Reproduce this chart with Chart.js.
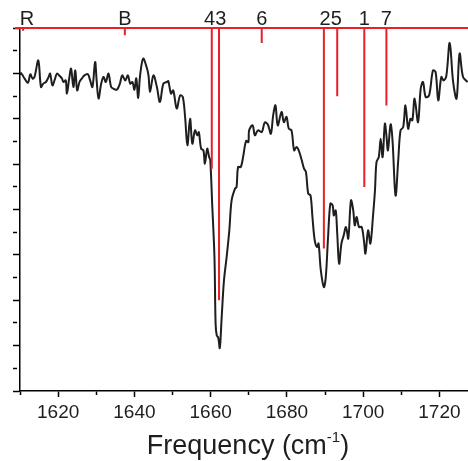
<!DOCTYPE html>
<html>
<head>
<meta charset="utf-8">
<script src="https://cdn.jsdelivr.net/npm/chart.js@4"></script>
<style>
  html, body { margin: 0; padding: 0; background: #fff; }
  #wrap { width: 468px; height: 461px; }
</style>
</head>
<body>
<div id="wrap"><canvas id="ir"></canvas></div>
<script>
// measured spectrum (frequency in cm-1, arbitrary intensity)
const freqs = [
  1609.9, 1610.3, 1611.2, 1612.1, 1612.7, 1613.3, 1613.8, 1614.8, 1615.5, 1616.1,
  1616.8, 1617.5, 1617.9, 1618.5, 1619.2, 1619.7, 1620.5, 1621.0, 1621.4, 1622.0,
  1622.3, 1622.9, 1623.4, 1624.0, 1624.5, 1625.0, 1625.6, 1626.2, 1626.9, 1627.8,
  1628.4, 1629.0, 1629.7, 1630.1, 1630.6, 1631.3, 1631.9, 1632.5, 1633.2, 1633.9,
  1634.5, 1635.4, 1636.2, 1636.8, 1637.6, 1638.3, 1638.9, 1639.5, 1640.0, 1640.5,
  1641.0, 1641.5, 1642.3, 1643.2, 1643.7, 1644.1, 1645.0, 1645.9, 1646.7, 1647.6,
  1648.5, 1648.9, 1649.6, 1650.2, 1651.1, 1652.0, 1652.7, 1653.3, 1653.9, 1654.6,
  1655.2, 1655.9, 1656.5, 1656.9, 1657.5, 1658.1, 1658.5, 1659.1, 1659.6, 1659.9,
  1660.4, 1661.0, 1661.3, 1661.6, 1662.0, 1662.4, 1662.9, 1663.5, 1664.2, 1664.9,
  1665.5, 1666.4, 1666.8, 1667.2, 1667.9, 1668.5, 1669.3, 1669.9, 1670.1, 1671.0,
  1671.6, 1672.4, 1673.4, 1674.2, 1675.0, 1675.8, 1676.4, 1677.0, 1677.6, 1678.6,
  1679.2, 1679.9, 1680.5, 1681.2, 1681.9, 1682.5, 1683.1, 1683.9, 1684.5, 1685.0,
  1685.6, 1686.2, 1686.7, 1687.3, 1687.9, 1688.3, 1688.9, 1689.7, 1690.2, 1690.8,
  1691.4, 1692.0, 1692.3, 1692.8, 1693.2, 1693.7, 1694.3, 1694.9, 1695.5, 1696.1,
  1696.8, 1697.4, 1697.8, 1698.3, 1698.9, 1699.6, 1700.2, 1700.6, 1701.3, 1701.9,
  1702.6, 1703.1, 1703.5, 1704.1, 1704.6, 1705.1, 1705.7, 1706.1, 1706.5, 1707.2,
  1707.7, 1708.5, 1709.2, 1709.8, 1710.5, 1711.1, 1711.8, 1712.4, 1712.9, 1713.5,
  1714.4, 1715.1, 1715.7, 1716.4, 1717.3, 1718.3, 1719.0, 1719.7, 1720.5, 1721.1,
  1721.8, 1722.7, 1723.6, 1724.5, 1725.3, 1726.2, 1727.4
];
const intensity = [
  13.96, 14.01, 13.77, 13.59, 13.96, 13.77, 13.84, 14.57, 13.40, 13.55,
  13.62, 13.84, 13.99, 13.47, 13.77, 13.99, 13.87, 13.77, 13.62, 13.69,
  13.11, 13.77, 14.21, 13.40, 14.13, 13.25, 13.62, 13.77, 13.91, 13.96,
  13.69, 13.40, 14.50, 13.69, 12.89, 13.55, 13.84, 13.62, 13.99, 13.40,
  13.33, 13.28, 13.55, 13.91, 13.69, 13.91, 13.55, 13.62, 13.28, 13.78,
  12.92, 13.91, 14.65, 14.28, 13.91, 13.18, 13.91, 13.40, 12.74, 13.55,
  13.62, 13.66, 13.11, 13.25, 12.45, 13.03, 12.96, 12.08, 10.83, 12.00,
  10.90, 11.49, 11.27, 11.41, 10.68, 10.61, 10.02, 10.68, 10.31, 10.17,
  8.26, 5.91, 2.97, 2.45, 2.35, 1.90, 3.26, 4.88, 5.91, 7.08,
  8.40, 8.92, 8.99, 9.87, 9.87, 10.30, 11.03, 10.97, 11.49, 11.71,
  11.27, 11.49, 11.41, 11.84, 11.75, 11.34, 12.15, 12.59, 11.71, 12.30,
  11.85, 12.08, 11.56, 11.49, 10.61, 10.75, 10.61, 10.17, 9.80, 9.65,
  8.70, 8.62, 7.67, 6.64, 6.35, 6.50, 5.32, 4.58, 5.02, 6.79,
  8.26, 8.18, 7.74, 7.96, 6.94, 5.61, 6.50, 6.86, 7.23, 6.72,
  8.40, 7.96, 7.30, 7.67, 7.23, 7.23, 6.64, 6.06, 7.08, 6.50,
  7.74, 8.84, 10.09, 10.31, 11.12, 10.31, 11.78, 11.27, 10.61, 11.75,
  11.05, 8.62, 10.17, 11.49, 11.63, 12.59, 11.56, 12.00, 11.93, 12.89,
  11.85, 13.33, 13.62, 12.96, 13.03, 14.13, 14.06, 12.81, 13.84, 13.69,
  13.87, 15.34, 13.62, 12.89, 14.87, 13.84, 13.62
];

// calculated modes: red sticks hanging from the top line
const stickFreqs = [1610.8, 1637.5, 1660.3, 1662.2, 1673.4, 1689.7, 1693.2, 1700.3, 1706.1];
const stickEnds  = [15.88, 15.68, 9.80, 4.00, 15.34, 6.28, 12.99, 8.99, 12.58];

// labels written above the sticks (close pairs share one label)
const stickLabels     = ['R', 'B', '43', '6', '25', '1', '7'];
const stickLabelFreqs = [1611.8, 1637.5, 1661.2, 1673.4, 1691.5, 1700.3, 1706.1];

const xMin = 1610, xMax = 1727.5;
const yTop = 16;
const red = '#e8202a';
const FONT = "'Liberation Sans', Arial, sans-serif";

const isStep = (v, step) => Math.abs(v - Math.round(v / step) * step) < 1e-6;

const spectrum = freqs.map((f, i) => ({ x: f, y: intensity[i] }));
const sticks = [];
stickFreqs.forEach((f, i) => {
    sticks.push({ x: f, y: yTop }, { x: f, y: stickEnds[i] }, { x: f, y: null });
});

const topLabelsPlugin = {
    id: 'topLabels',
    afterDatasetsDraw(chart) {
        const ctx = chart.ctx;
        const xs = chart.scales.x;
        ctx.save();
        ctx.fillStyle = '#1e1e1e';
        ctx.font = '20px ' + FONT;
        ctx.textAlign = 'center';
        ctx.textBaseline = 'alphabetic';
        stickLabels.forEach((t, i) => {
            ctx.fillText(t, xs.getPixelForValue(stickLabelFreqs[i]), chart.chartArea.top - 3);
        });
        ctx.restore();
    }
};

const axisTitlePlugin = {
    id: 'axisTitle',
    afterDraw(chart) {
        const ctx = chart.ctx;
        const area = chart.chartArea;
        const main = 'Frequency (cm', sup = '-1', close = ')';
        ctx.save();
        ctx.fillStyle = '#1e1e1e';
        ctx.textBaseline = 'alphabetic';
        ctx.textAlign = 'left';
        ctx.font = '27px ' + FONT;
        const w1 = ctx.measureText(main).width;
        const w3 = ctx.measureText(close).width;
        ctx.font = '15px ' + FONT;
        const w2 = ctx.measureText(sup).width;
        const total = w1 + w2 + w3;
        const cx = (area.left + area.right) / 2 + 4;
        const base = chart.height - 7;
        let x = cx - total / 2;
        ctx.font = '27px ' + FONT;
        ctx.fillText(main, x, base);
        x += w1;
        ctx.font = '15px ' + FONT;
        ctx.fillText(sup, x, base - 12);
        x += w2;
        ctx.font = '27px ' + FONT;
        ctx.fillText(close, x, base);
        ctx.restore();
    }
};

new Chart(document.getElementById('ir'), {
    type: 'scatter',
    data: {
        datasets: [
            {
                data: [{ x: xMin - 1.3, y: yTop }, { x: xMax, y: yTop }],
                showLine: true, borderColor: red, borderWidth: 2,
                pointRadius: 0, clip: false
            },
            {
                data: sticks,
                showLine: true, spanGaps: false, borderColor: red, borderWidth: 2,
                pointRadius: 0, clip: false
            },
            {
                data: spectrum,
                showLine: true, borderColor: '#1e1e1e', borderWidth: 2,
                pointRadius: 0, tension: 0.35, borderJoinStyle: 'round'
            }
        ]
    },
    options: {
        responsive: true,
        maintainAspectRatio: false,
        animation: false,
        layout: { padding: { top: 28, right: 0, left: 0, bottom: 0 } },
        plugins: { legend: { display: false }, tooltip: { enabled: false } },
        scales: {
            x: {
                type: 'linear',
                min: xMin, max: xMax,
                afterBuildTicks: s => {
                    s.ticks = s.ticks
                        .filter(t => isStep(t.value, 10))
                        .map(t => ({ value: Math.round(t.value) }));
                },
                afterFit: s => { s.height = 70; },
                border: { color: '#000', width: 1.5 },
                grid: {
                    drawOnChartArea: false, drawTicks: true, tickLength: 6,
                    tickColor: '#000', tickWidth: 1.5,
                    tickBorderDash: c => (c.tick && isStep(c.tick.value, 20)) ? [] : [3.5, 20]
                },
                ticks: {
                    stepSize: 10, maxTicksLimit: 40, includeBounds: false,
                    autoSkip: false, maxRotation: 0, padding: 4,
                    color: '#1e1e1e', font: { family: FONT, size: 19 },
                    callback: v => (isStep(v, 20) ? String(Math.round(v)) : '')
                }
            },
            y: {
                min: 0, max: yTop,
                afterFit: s => { s.width = 20; },
                border: { color: '#000', width: 1.5 },
                grid: {
                    drawOnChartArea: false, drawTicks: true, tickLength: 7,
                    tickColor: '#000', tickWidth: 1.5,
                    tickBorderDash: c => (c.tick && isStep(c.tick.value, 2)) ? [] : [4, 20]
                },
                ticks: { stepSize: 1, maxTicksLimit: 40, autoSkip: false, callback: () => '', padding: 0 }
            }
        }
    },
    plugins: [topLabelsPlugin, axisTitlePlugin]
});
</script>
</body>
</html>
